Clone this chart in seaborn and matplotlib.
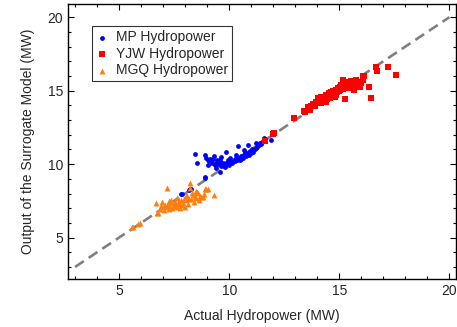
import matplotlib
matplotlib.use("Agg")
import matplotlib.pyplot as plt
import seaborn as sns
import pandas as pd
from matplotlib.ticker import MultipleLocator

# ---- data (actual, surrogate) ----
mp_x = [7.80, 7.84, 8.18, 8.21, 8.26, 8.91, 8.89,
        8.47, 8.52, 8.89, 8.95, 9.03, 9.10, 9.15, 9.27, 9.20, 9.35, 9.40, 9.42, 9.50,
        9.57, 9.57, 9.62, 9.65, 9.70, 9.75, 9.80, 9.85, 9.87, 9.90, 9.95, 10.00, 10.05,
        10.10, 10.15, 10.20, 10.25, 10.30, 10.33, 10.35, 10.40, 10.42, 10.48, 10.52,
        10.55, 10.60, 10.63, 10.68, 10.71, 10.75, 10.80, 10.86, 10.88, 10.92, 10.95,
        11.01, 11.05, 11.10, 11.16, 11.20, 11.24, 11.28, 11.35, 11.39, 11.45, 11.50,
        11.58, 11.61, 11.88, 9.30, 9.05, 9.60, 10.05, 9.45, 10.65]
mp_y = [7.95, 7.97, 8.24, 8.29, 8.30, 9.08, 9.10,
        10.69, 10.10, 10.62, 10.45, 10.28, 10.20, 10.35, 10.33, 10.05, 9.94, 10.10, 9.71, 10.00,
        10.16, 9.48, 9.85, 10.50, 10.05, 9.90, 9.82, 10.10, 10.84, 10.00, 10.25, 9.95, 10.15,
        10.16, 10.05, 10.30, 10.20, 10.45, 10.62, 10.25, 11.23, 10.40, 10.30, 10.55,
        10.35, 10.50, 10.39, 10.65, 10.84, 10.55, 10.70, 11.30, 10.80, 10.65, 10.90,
        10.73, 11.00, 10.85, 11.01, 11.10, 11.41, 11.15, 11.30, 11.46, 11.35, 11.50,
        11.75, 11.69, 11.64, 10.55, 9.95, 10.30, 10.45, 10.25, 10.95]

yjw_x = [11.64, 11.99, 12.05, 12.93, 13.40, 13.45, 13.58, 13.65, 13.72, 13.80, 13.88,
         13.95, 14.03, 14.08, 14.12, 14.18, 14.22, 14.26, 14.30, 14.35, 14.41, 14.45,
         14.50, 14.55, 14.60, 14.64, 14.70, 14.75, 14.79, 14.83, 14.86, 14.90, 14.95,
         15.01, 15.05, 15.10, 15.16, 15.20, 15.24, 15.24, 15.30, 15.35, 15.39, 15.45,
         15.50, 15.54, 15.60, 15.65, 15.69, 15.69, 15.75, 15.80, 15.85, 15.90, 15.96,
         16.00, 16.07, 16.07, 16.14, 16.33, 16.42, 16.67, 16.72, 17.23, 17.58,
         14.00, 14.15, 14.40, 14.70, 15.00, 15.15, 15.40, 14.85, 13.90, 15.55, 15.25]
yjw_y = [11.59, 12.05, 12.12, 13.16, 13.64, 13.55, 13.86, 13.70, 13.95, 14.07, 13.95,
         14.20, 14.47, 14.30, 14.15, 14.18, 14.40, 14.47, 14.30, 14.55, 14.70, 14.40,
         14.60, 14.85, 14.50, 14.88, 14.65, 15.00, 14.58, 14.80, 15.04, 14.90, 15.15,
         15.27, 15.05, 15.40, 15.72, 15.20, 15.38, 14.41, 15.55, 15.30, 15.61, 15.45,
         15.20, 15.65, 15.50, 15.35, 15.56, 15.04, 15.70, 15.45, 15.60, 15.30, 15.27,
         15.55, 15.72, 15.99, 16.01, 15.27, 14.52, 16.63, 16.36, 16.63, 16.06,
         14.25, 14.55, 14.20, 14.95, 15.00, 15.10, 15.45, 14.70, 14.10, 15.35, 15.50]

mgq_x = [5.57, 5.62, 5.87, 5.95, 6.66, 6.73, 6.75, 6.85, 6.97, 7.05, 7.10, 7.16, 7.18,
         7.22, 7.25, 7.31, 7.35, 7.40, 7.46, 7.50, 7.55, 7.61, 7.65, 7.70, 7.76, 7.80,
         7.85, 7.91, 7.95, 8.00, 8.06, 8.10, 8.15, 8.21, 8.24, 8.28, 8.32, 8.36, 8.40,
         8.45, 8.51, 8.55, 8.59, 8.62, 8.68, 8.74, 8.79, 8.85, 8.89, 8.94, 9.04, 9.31,
         7.38, 7.72, 8.02, 8.18, 8.48, 7.28, 6.92, 7.58]
mgq_y = [5.74, 5.70, 5.90, 6.00, 7.33, 6.65, 6.70, 6.95, 7.44, 6.90, 7.20, 8.35, 7.05,
         7.30, 6.95, 7.10, 7.40, 7.00, 7.33, 7.15, 7.45, 7.67, 7.05, 7.30, 6.99, 7.55,
         7.20, 7.33, 7.60, 7.10, 7.56, 7.85, 7.30, 8.69, 8.35, 7.65, 8.05, 7.90, 7.45,
         7.75, 7.67, 8.10, 8.01, 7.55, 7.85, 7.78, 7.78, 8.00, 8.31, 8.31, 8.31, 7.90,
         7.55, 7.48, 7.80, 7.62, 8.20, 7.50, 7.15, 7.25]

series = ["MP Hydropower", "YJW Hydropower", "MGQ Hydropower"]
line_x = [3, 20]

df = pd.concat([
    pd.DataFrame({"actual": mp_x, "model": mp_y, "plant": series[0]}),
    pd.DataFrame({"actual": yjw_x, "model": yjw_y, "plant": series[1]}),
    pd.DataFrame({"actual": mgq_x, "model": mgq_y, "plant": series[2]}),
])

sns.set_style("ticks")
plt.rcParams["font.family"] = ["Liberation Sans", "DejaVu Sans"]

fig = plt.figure(figsize=(4.57, 3.27), dpi=100)
ax = fig.add_axes([68 / 457, (327 - 279) / 327, 388 / 457, 275 / 327])

ax.plot(line_x, line_x, color="#808080", lw=1.9, ls=(0, (4, 2.2)), zorder=1)

colors = {series[0]: "#0000FF", series[1]: "#FF0000", series[2]: "#FF7F0E"}
markers = {series[0]: "o", series[1]: "s", series[2]: "^"}
sizes = {series[0]: 12, series[1]: 16, series[2]: 18}
for name in series:
    sub = df[df["plant"] == name]
    sns.scatterplot(data=sub, x="actual", y="model", ax=ax, color=colors[name],
                    marker=markers[name], s=sizes[name], linewidth=0,
                    label=name, zorder=3)

ax.set_xlim(2.68, 20.3)
ax.set_ylim(2.18, 20.9)
ax.xaxis.set_major_locator(MultipleLocator(5))
ax.xaxis.set_minor_locator(MultipleLocator(1))
ax.yaxis.set_major_locator(MultipleLocator(5))
ax.yaxis.set_minor_locator(MultipleLocator(1))
ax.tick_params(which="both", direction="in", top=True, right=True, labelsize=10,
               color="black", width=0.8)
ax.tick_params(which="major", length=4)
ax.tick_params(which="minor", length=2.5)
for sp in ax.spines.values():
    sp.set_color("black")
    sp.set_linewidth(1.0)

ax.set_xlabel("Actual Hydropower (MW)", fontsize=10, labelpad=8)
ax.set_ylabel("Output of the Surrogate Model (MW)", fontsize=10, labelpad=9)

leg = ax.legend(loc="upper left", bbox_to_anchor=(0.062, 0.92), borderaxespad=0,
                fontsize=10, frameon=True, fancybox=False, edgecolor="black",
                handlelength=0.8, handletextpad=0.6, labelspacing=0.18,
                borderpad=0.3, markerscale=1.0)
leg.get_frame().set_linewidth(0.8)

fig.savefig("out.png", dpi=100)
